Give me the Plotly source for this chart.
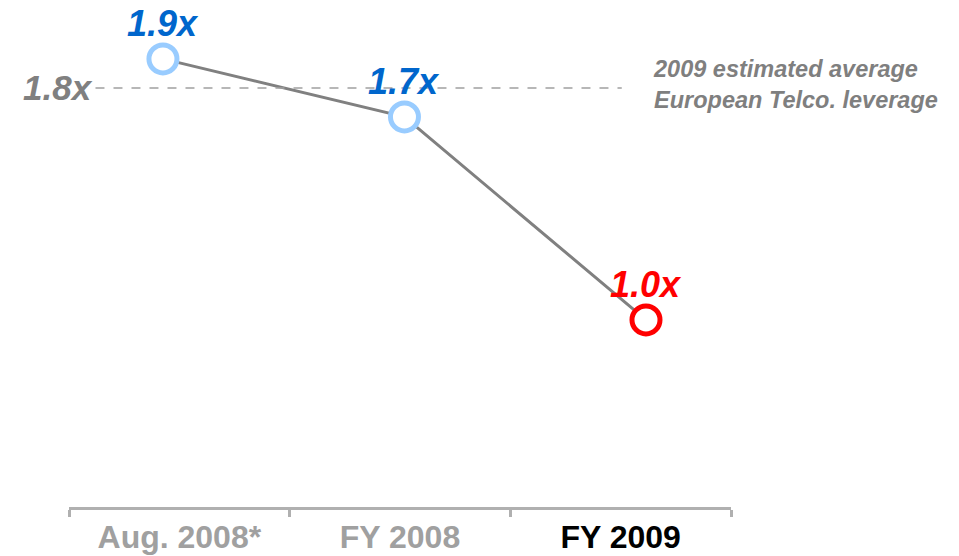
import plotly.graph_objects as go

# Net debt / EBITDA leverage by period
periods = ["Aug. 2008*", "FY 2008", "FY 2009"]
leverage = [1.9, 1.7, 1.0]
value_labels = ["1.9x", "1.7x", "1.0x"]
label_colors = ["#0066cc", "#0066cc", "#ff0000"]
marker_colors = ["#99ccff", "#99ccff", "#ff0000"]
period_colors = ["#a0a0a0", "#a0a0a0", "#000000"]

# Sector benchmark
benchmark = 1.8
benchmark_label = "1.8x"
benchmark_note = "2009 estimated average<br>European Telco. leverage"

FONT = "Liberation Sans, Arial, sans-serif"

fig = go.Figure()

# invisible trace that carries the category axis with the period labels
fig.add_trace(go.Scatter(
    x=periods, y=[None] * len(periods), xaxis="x", yaxis="y",
    mode="markers", marker=dict(opacity=0), showlegend=False, hoverinfo="skip",
))

# leverage line
fig.add_trace(go.Scatter(
    x=periods, y=leverage, xaxis="x2", yaxis="y",
    mode="lines+markers",
    line=dict(color="#808080", width=3),
    marker=dict(size=28, color="white", line=dict(color=marker_colors, width=5)),
    showlegend=False, hoverinfo="skip", cliponaxis=False,
))

# value labels above each point
for p, v, t, c in zip(periods, leverage, value_labels, label_colors):
    fig.add_annotation(xref="x2", yref="y", x=p, y=v, text=t, showarrow=False,
                       xanchor="center", yanchor="middle", yshift=35,
                       font=dict(family=FONT, size=36, color=c,
                                 weight="bold", style="italic"))

# benchmark dashed line
fig.add_shape(type="line", xref="paper", yref="y",
              x0=0.04, x1=0.835, y0=benchmark, y1=benchmark,
              line=dict(color="#a0a0a0", width=1.5, dash="dash"))
fig.add_annotation(xref="paper", yref="y", x=0.04, y=benchmark,
                   text=benchmark_label, showarrow=False,
                   xanchor="right", yanchor="middle",
                   font=dict(family=FONT, size=35, color="#808080",
                             weight="bold", style="italic"))
fig.add_annotation(xref="paper", yref="paper", x=0.879, y=0.893,
                   text=benchmark_note, showarrow=False, align="left",
                   xanchor="left", yanchor="top",
                   font=dict(family=FONT, size=23.5, color="#7f7f7f",
                             weight="bold", style="italic"))

tick_text = [f"<span style='color:{c}'>{p}</span>" for p, c in zip(periods, period_colors)]

fig.update_layout(
    width=959, height=556,
    margin=dict(l=69, r=228, t=0, b=49),
    paper_bgcolor="white", plot_bgcolor="white",
    font=dict(family=FONT),
    xaxis=dict(
        type="category", categoryarray=periods, categoryorder="array",
        range=[-0.5, 2.5], tickson="boundaries",
        tickvals=periods, ticktext=tick_text,
        ticks="outside", ticklen=7, tickwidth=3, tickcolor="#b0b0b0",
        showline=True, linecolor="#b0b0b0", linewidth=3,
        showgrid=False, zeroline=False,
        tickfont=dict(family=FONT, size=32, weight="bold"),
    ),
    xaxis2=dict(
        type="category", categoryarray=periods, categoryorder="array",
        overlaying="x", range=[-0.389, 2.352],
        visible=False, showgrid=False, zeroline=False,
    ),
    yaxis=dict(range=[0.355, 2.103], visible=False,
               showgrid=False, zeroline=False),
)

fig.write_html("out.html")
